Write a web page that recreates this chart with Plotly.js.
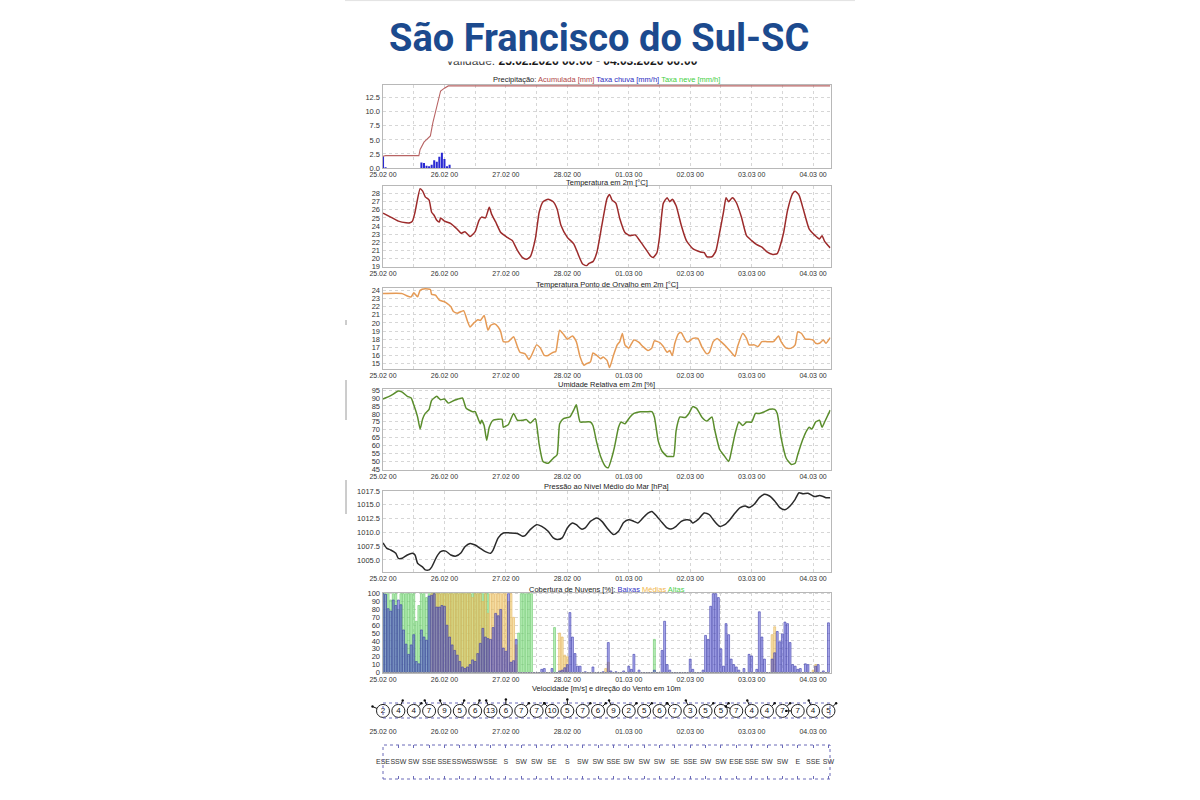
<!DOCTYPE html>
<html><head><meta charset="utf-8">
<script src="https://cdn.plot.ly/plotly-3.0.1.min.js"></script>
<style>html,body{margin:0;padding:0;background:#fff}#chart{width:1200px;height:800px}</style>
</head><body><div id="chart"></div>
<script>
// ---------- DATA ----------
const dayLabels = ['25.02 00','26.02 00','27.02 00','28.02 00','01.03 00','02.03 00','03.03 00','04.03 00'];
const gridHours = [0,12,24,36,48,60,72,84,96,108,120,132,144,156,168];

// Precipitation
const rateH = [0,1,15,16,17,18,19,20,21,22,23,24,25,26];
const rateV = [2.1,0.15,1.0,0.9,0.4,0.3,0.6,1.4,1.1,2.0,2.7,1.6,0.3,0.6];
const accH = [0,1,14,14.5,16,17.5,18.5,19.5,21,22,22.5,24,25.5,174.7];
const accV = [2.1,2.2,2.2,3.3,4.6,5.2,5.7,8.1,11.1,12.9,13.7,14.2,14.6,14.6];

// Temperature 2m
const tempH = [0,3,6,9,10.5,11.5,12.5,14.5,15.5,16.5,18,19,20,21,22,22.5,24,26.5,29,30.5,32,34,36,37.5,38.5,40,41.5,42.5,44,46,48.5,50.5,52.5,54.5,56,57.5,59.5,61,62.5,64.5,66.5,68,69.5,72,74.5,76.5,78,79.5,80.5,82,83.5,85.5,87.5,88.5,89.5,91,92.5,94.5,96.5,98.5,100.5,102.5,104.5,105.5,107,108,109.5,111,112,113,114.5,116.5,118.5,121,124,125.5,126.5,128.5,130,131.5,133,134,135,136.5,138,140,142,144,146,148,150,152,154,155,156.5,158,160,161,162.5,164.5,166.5,168.5,170.5,171.5,172.5,174.7];
const tempV = [25.6,25.1,24.6,24.4,24.4,24.6,25.7,28.6,28.3,27.6,27.2,25.7,25.3,24.7,24.5,25.0,24.6,24.3,23.6,23.1,23.3,22.7,23.3,24.7,25.1,25.0,26.3,25.4,24.5,23.2,22.6,22.2,21.0,20.1,19.9,20.2,22.4,25.7,27.0,27.3,27.0,26.1,24.1,22.6,21.8,20.3,19.3,19.1,19.4,19.6,20.7,24.1,27.4,27.9,27.2,26.8,24.9,23.2,22.8,22.9,22.1,21.2,20.3,20.1,20.7,22.6,26.8,27.5,27.0,27.3,26.5,24.1,22.2,21.2,20.8,20.7,20.2,20.2,20.9,23.2,25.7,27.5,27.0,27.5,26.9,25.1,22.8,22.2,21.7,21.4,20.8,20.5,20.6,21.4,23.2,25.9,28.0,28.3,27.8,25.7,23.6,22.9,22.4,22.8,22.1,21.3];

// Dew point 2m
const dewH = [0,7.5,9.5,11,12,13.5,14.5,16.5,18.5,19,20.5,22,24,25,26.5,27.5,29,30.5,31.5,33,34,35.5,37,38,39.5,41,42,43.5,45,46,47,49,51,52.5,53.5,55.5,57,58,60,61.5,63,64.5,66.5,67.5,69,70.5,72,74,75.5,77,78.5,79.5,81,82,83.5,85,86,87.5,88.5,90,91.5,92.5,93.5,94.5,96,98,100,101.5,103.5,105,106,108,109.5,111,112,113,114,115.5,116.5,118.5,119.5,121,123,124.5,126.5,127.5,129,130.5,132,134,136,137.5,138.5,140.5,142,143,145,146.5,148,150,152.5,154.5,155.5,157.5,159.5,161,162,163.5,165,166.5,168,169,170.5,172,173,174.7];
const dewV = [23.6,23.6,23.3,23.2,23.7,23.2,24.0,24.2,24.1,23.5,23.4,22.8,22.6,22.4,22.0,21.4,21.2,21.4,21.5,20.2,19.5,20.0,20.4,20.3,20.9,19.1,19.7,19.9,19.5,18.9,17.7,17.7,18.3,17.1,16.4,16.2,15.5,16.0,17.3,16.9,16.0,16.0,16.4,16.5,19.1,18.6,18.0,18.4,17.7,15.8,14.8,15.0,15.2,16.3,16.0,15.6,15.8,15.4,14.5,16.0,17.3,17.7,18.7,17.3,16.9,17.9,17.6,17.1,16.6,16.9,17.8,17.6,17.1,16.4,16.6,16.0,17.5,18.7,18.8,17.7,17.7,18.1,18.1,17.1,16.2,16.4,17.7,18.1,17.7,17.1,16.4,15.9,17.1,18.7,18.1,17.3,17.3,17.1,17.7,17.7,17.7,18.4,17.7,16.9,16.9,17.3,18.9,18.7,18.0,18.0,17.9,17.5,17.5,17.9,17.5,18.2];

// Relative humidity 2m
const rhH = [0,3,6,7.5,9.5,11,12,13.5,14.5,15.5,16.5,18,19,21,22.5,24,25.5,27,28.5,31,32.5,35,36,38,38.5,39.5,40.5,41.5,43,45,46.5,47,49,51,52.5,54.5,56,57.5,59.5,61,62.5,64.5,66.5,68,69,70.5,72,73,74.5,75.5,77,78.5,81,82,83.5,85,87,88,89.5,90.5,92,93,94.5,96.5,98,100.5,103,105,106,107.5,109,111,112.5,113.5,114.5,116,118,119.5,121,122.5,124.5,126.5,128.5,129.5,131.5,133,135,135.5,137.5,139,140.5,142,144,145.5,147,149,151,153,154,155.5,157.5,159.5,161,162,164,165.5,166.5,167.5,169,170.5,171.5,172.5,174.7];
const rhV = [89.4,91.5,94.4,93.7,91.1,90.0,85.7,78.1,70.5,77.0,80.3,82.9,88.5,91.1,88.9,89.4,86.8,87.9,88.9,90.0,83.5,81.4,81.4,73.8,76.0,72.7,63.4,71.6,76.0,76.6,76.6,71.6,73.4,80.3,76.0,76.0,76.4,74.2,77.0,60.8,50.0,48.9,52.1,54.3,73.8,77.0,77.7,78.1,82.4,85.7,74.9,74.9,74.9,72.7,61.9,53.2,46.7,46.1,53.2,59.7,71.6,74.9,73.8,78.1,80.3,81.4,81.4,81.4,78.1,63.0,56.5,53.2,53.2,53.2,69.5,78.1,77.7,80.3,84.6,83.5,78.1,75.5,78.1,70.5,57.6,54.3,50.0,52.1,67.3,74.9,72.7,74.9,74.9,80.3,80.3,81.4,82.9,82.9,80.3,65.1,52.1,48.2,48.9,54.3,64.0,69.5,71.6,70.5,74.9,76.0,71.6,74.9,82.4];

// Mean sea level pressure
const presH = [0,1.5,3,5,6,7.5,9.5,11.5,12.5,13.5,15.5,16.5,18,19,21,22.5,24.5,26.5,28.5,30.5,32,34,36,38,40,42,43,45,47,49.5,52.5,54.5,55.5,57.5,60,62,64.5,66.5,68,70,72,74,75.5,77.5,79,81,83.5,85.5,88,90,92,94,96,98,99.5,101.5,103.5,105,107,109,111,112.5,114.5,116.5,118.5,120,121,123,125.5,127.5,129.5,131.5,133.5,135.5,137.5,139.5,141.5,143,145,147,149,151,153,155,157,159,161,162.5,164,166,168,169,170.5,172,173,174.7];
const presV = [1008.1,1007.1,1006.8,1006.2,1005.3,1005.3,1005.9,1006.2,1005.9,1004.4,1003.7,1003.2,1003.2,1003.7,1005.6,1006.5,1006.6,1005.9,1005.7,1006.3,1007.4,1008.0,1007.7,1007.1,1006.5,1006.2,1006.8,1009.0,1009.9,1009.9,1009.8,1009.3,1009.4,1010.5,1011.4,1011.1,1010.2,1009.0,1008.7,1009.0,1010.8,1011.7,1011.4,1010.6,1010.8,1012.0,1012.6,1012.0,1010.5,1009.6,1010.2,1011.8,1012.3,1012.0,1011.7,1012.6,1013.5,1013.8,1012.9,1011.8,1010.8,1010.6,1011.1,1012.0,1012.3,1012.2,1011.7,1012.3,1013.5,1013.2,1012.0,1011.1,1011.4,1012.3,1013.5,1014.5,1014.8,1014.5,1015.1,1016.3,1016.9,1016.6,1015.7,1014.5,1014.1,1014.8,1016.0,1017.2,1017.0,1017.1,1016.6,1016.5,1016.7,1016.5,1016.3,1016.3];

// Cloud cover [%], hourly from 25.02 00 (index = hour)
const cloudLow = [100,99,81,78,92,85,92,86,54,36, 23,35,48,14,11,54,45,41,97,98, 100,83,83,85,84,60,45,35,28,22, 14,7,5,7,10,16,14,24,37,56, 45,43,42,57,75,72,80,31,27,100, 13,15,42,0,0,0,0,0,0,0, 0,0,4,5,0,0,5,0,0,2, 3,6,10,76,45,24,8,8,0,1, 0,0,7,0,0,0,1,0,38,2, 0,1,0,0,2,0,8,4,23,0, 3,0,0,0,0,0,3,0,0,28, 65,10,3,0,0,0,0,0,0,0, 17,4,0,0,0,3,47,42,84,100, 100,95,30,8,62,48,17,10,7,3, 0,5,0,23,21,0,4,77,45,17, 0,0,17,25,52,39,49,64,62,38, 10,8,4,5,0,11,10,0,0,8, 10,0,2,0,63];
const cloudMid = [0,0,0,0,0,0,0,0,0,0, 0,0,0,0,0,0,0,0,0,100, 100,100,100,100,100,100,100,100,100,100, 100,100,100,100,100,95,100,100,100,90, 100,75,100,100,100,100,100,100,100,90, 100,70,35,0,0,0,0,0,0,0, 0,0,0,0,0,0,0,0,0,50, 45,22,20,0,0,0,0,0,0,0, 0,0,0,0,0,0,0,5,13,0, 0,0,0,0,0,0,0,0,0,0, 0,0,0,0,0,0,0,0,0,0, 0,0,0,0,0,0,0,0,0,0, 0,0,0,0,0,0,0,0,0,0, 0,0,0,0,0,0,0,0,0,0, 0,0,0,0,0,0,0,0,0,0, 0,0,48,58,0,0,0,0,0,0, 0,0,0,0,0,0,0,0,3,10, 0,0,0,0,0];
const cloudHigh = [100,100,100,92,100,100,80,100,100,100, 100,100,100,65,85,100,100,95,100,100, 100,100,100,100,100,100,100,100,100,100, 100,100,100,100,100,100,100,100,100,100, 100,100,0,0,0,0,0,0,0,0, 0,0,0,50,100,100,100,100,100,0, 0,0,0,0,0,0,0,57,0,0, 0,0,0,0,0,0,0,0,0,0, 0,0,0,0,0,0,0,0,0,0, 0,0,0,0,0,0,0,0,0,0, 0,0,0,0,0,0,42,0,0,0, 0,0,0,0,0,0,0,0,0,0, 0,0,0,0,0,0,0,0,0,0, 0,0,0,0,0,0,0,0,0,0, 0,0,0,0,0,0,0,0,0,0, 0,0,0,0,0,0,0,0,0,0, 0,0,0,0,0,0,0,0,0,0, 0,0,0,0,0];

// Wind 10m (6-hourly)
const windH = [0,6,12,18,24,30,36,42,48,54,60,66,72,78,84,90,96,102,108,114,120,126,132,138,144,150,156,162,168,174];
const windSpd = [2,4,4,7,9,5,6,13,6,7,7,10,5,7,6,9,2,5,6,7,3,5,5,7,4,4,7,7,4,5];
const windDir = ['ESE','SSW','SW','SSE','SSE','SSW','SSW','SSE','S','SW','SW','SE','S','SW','SW','SSE','SW','SW','SW','SE','SSE','SW','SW','ESE','SSE','SW','SW','E','SSE','SW'];

// ---------- LAYOUT HELPERS ----------
const W = 1200, H = 800;
const px = v => v / W, py = v => 1 - v / H;
const X0 = 382.5, X1 = 830.5;
const XR = [-0.2, 174.8];
const FONT = 'Liberation Sans, Arial, sans-serif';
const GRID = '#d6d6d6';
const gridText = gridHours.map((h, i) => i % 2 === 0 ? dayLabels[i / 2] : '');
const compass = {N:0,NNE:22.5,NE:45,ENE:67.5,E:90,ESE:112.5,SE:135,SSE:157.5,S:180,SSW:202.5,SW:225,WSW:247.5,W:270,WNW:292.5,NW:315,NNW:337.5};

function xax(anchor) {
  return {domain:[px(X0), px(X1)], range:XR, anchor, tickmode:'array', tickvals:gridHours, ticktext:gridText,
    showgrid:true, gridcolor:GRID, griddash:'3px,3px', gridwidth:1, showline:true, mirror:true,
    linecolor:'#b8b8b8', linewidth:1, ticks:'', zeroline:false, fixedrange:true,
    tickfont:{family:FONT, size:7, color:'#333'}};
}
function yax(anchor, top, bottom, range, vals, txt) {
  return {domain:[py(bottom), py(top)], range, anchor, tickmode:'array', tickvals:vals, ticktext:txt || vals.map(String),
    showgrid:true, gridcolor:GRID, griddash:'3px,3px', gridwidth:1, showline:true, mirror:true,
    linecolor:'#b8b8b8', linewidth:1, ticks:'', zeroline:false, fixedrange:true,
    tickfont:{family:FONT, size:7.5, color:'#333'}};
}

const panels = [[84.5,168],[185.5,266.5],[287.5,368.5],[388.5,469.5],[490.5,571.5],[592.5,672.5]];
const pVals = [0,2.5,5,7.5,10,12.5];
const tVals = [19,20,21,22,23,24,25,26,27,28];
const dVals = [15,16,17,18,19,20,21,22,23,24];
const hVals = [45,50,55,60,65,70,75,80,85,90,95];
const prVals = [1005,1007.5,1010,1012.5,1015,1017.5];
const cVals = [0,10,20,30,40,50,60,70,80,90,100];

const layout = {
  width:W, height:H, margin:{l:0,r:0,t:0,b:0}, paper_bgcolor:'#ffffff', plot_bgcolor:'#ffffff',
  showlegend:false, barmode:'overlay', hovermode:false,
  font:{family:FONT, size:8, color:'#333'},
  xaxis: xax('y'), xaxis2: xax('y2'), xaxis3: xax('y3'), xaxis4: xax('y4'), xaxis5: xax('y5'), xaxis6: xax('y6'),
  yaxis: yax('x', panels[0][0], panels[0][1], [0,14.85], pVals, pVals.map(v => v.toFixed(1))),
  yaxis2: yax('x2', panels[1][0], panels[1][1], [19,29], tVals),
  yaxis3: yax('x3', panels[2][0], panels[2][1], [14.4,24.35], dVals),
  yaxis4: yax('x4', panels[3][0], panels[3][1], [45,96], hVals),
  yaxis5: yax('x5', panels[4][0], panels[4][1], [1002.9,1017.6], prVals, prVals.map(v => v.toFixed(1))),
  yaxis6: yax('x6', panels[5][0], panels[5][1], [0,101.5], cVals),
  xaxis7: {domain:[px(X0),px(X1)], range:XR, anchor:'y7', tickmode:'array', tickvals:gridHours, ticktext:gridText,
    showgrid:false, showline:false, zeroline:false, ticks:'', fixedrange:true, tickfont:{family:FONT,size:7,color:'#333'}},
  yaxis7: {domain:[py(726), py(700)], range:[0,1], anchor:'x7', visible:false, fixedrange:true},
  xaxis8: {domain:[px(X0),px(X1)], range:XR, anchor:'y8', tickmode:'array', tickvals:windH, showticklabels:false,
    showgrid:false, showline:false, zeroline:false, ticks:'inside', ticklen:3, tickcolor:'#6a6ab8', mirror:'ticks', fixedrange:true},
  yaxis8: {domain:[py(779), py(745)], range:[0,1], anchor:'x8', visible:false, fixedrange:true},
  shapes: [
    {type:'line', xref:'paper', yref:'paper', x0:px(345), x1:px(855), y0:py(0.6), y1:py(0.6), line:{color:'#e2e2e2', width:1}},
    {type:'line', xref:'paper', yref:'paper', x0:px(346), x1:px(346), y0:py(380), y1:py(420), line:{color:'#9a9a9a', width:1}},
    {type:'line', xref:'paper', yref:'paper', x0:px(346), x1:px(346), y0:py(480), y1:py(514), line:{color:'#9a9a9a', width:1}},
    {type:'line', xref:'paper', yref:'paper', x0:px(346), x1:px(346), y0:py(320), y1:py(325), line:{color:'#9a9a9a', width:1}},
    {type:'rect', xref:'paper', yref:'paper', x0:px(383), x1:px(830), y0:py(718), y1:py(703), line:{color:'#6a6ab8', width:1, dash:'dot'}},
    {type:'rect', xref:'paper', yref:'paper', x0:px(383), x1:px(830), y0:py(779), y1:py(745), line:{color:'#6a6ab8', width:1, dash:'dot'}}
  ],
  annotations: []
};

const ann = layout.annotations;
const cx = px((X0 + X1) / 2);
function ptitle(text, y) {
  ann.push({xref:'paper', yref:'paper', x:cx, y:py(y), xanchor:'center', yanchor:'middle', showarrow:false,
    text, font:{family:FONT, size:7.5, color:'#222'}});
}
ptitle('Precipitação: <span style="color:#b04848">Acumulada [mm]</span> <span style="color:#2b2bc0">Taxa chuva [mm/h]</span> <span style="color:#3fcf3f">Taxa neve [mm/h]</span>', 79);
ptitle('Temperatura em 2m [°C]', 182);
ptitle('Temperatura Ponto de Orvalho em 2m [°C]', 284);
ptitle('Umidade Relativa em 2m [%]', 385);
ptitle('Pressão ao Nível Médio do Mar [hPa]', 486.5);
ptitle('Cobertura de Nuvens [%]: <span style="color:#3434c4">Baixas</span> <span style="color:#f2b548">Médias</span> <span style="color:#4fd04f">Altas</span>', 589);
ptitle('Velocidade [m/s] e direção do Vento em 10m', 688);

// subtitle (top half hidden behind the header) and header
ann.push({xref:'paper', yref:'paper', x:px(572), y:py(60.5), xanchor:'center', yanchor:'middle', showarrow:false,
  text:'<span style="color:#444">Validade:</span> <b>25.02.2026 00:00 - 04.03.2026 06:00</b>', font:{family:FONT, size:12, color:'#1a1a1a'}});
ann.push({xref:'paper', yref:'paper', x:px(572), y:py(50), xanchor:'center', yanchor:'top', showarrow:false,
  text:' ', width:320, height:8, bgcolor:'#ffffff', borderpad:1, font:{size:4}});
ann.push({xref:'paper', yref:'paper', x:px(599), y:py(38), xanchor:'center', yanchor:'middle', showarrow:false,
  text:'<b>São Francisco do Sul-SC</b>', font:{family:'Roboto, Noto Sans, sans-serif', size:38, color:'#1c4a8e'}});

// wind arrows
windH.forEach((h, i) => {
  const d = compass[windDir[i]] * Math.PI / 180;
  const L = 13;
  ann.push({x:h, y:0.58, xref:'x7', yref:'y7', text:'', showarrow:true, arrowside:'start',
    ax:-Math.sin(d) * L, ay:Math.cos(d) * L, axref:'pixel', ayref:'pixel',
    arrowhead:6, startarrowhead:6, startarrowsize:0.6, arrowsize:0.6, arrowwidth:1, arrowcolor:'#111',
    standoff:6.5, font:{size:1, color:'#111'}});
});

// ---------- TRACES ----------
const hrs = cloudLow.map((_, i) => i);
const traces = [
  {type:'bar', x:rateH, y:rateV, xaxis:'x', yaxis:'y', width:0.8, marker:{color:'#2a2ad2', line:{width:0}}},
  {type:'scatter', mode:'lines', x:accH, y:accV, xaxis:'x', yaxis:'y', line:{color:'#b86464', width:1.1}},
  {type:'scatter', mode:'lines', x:tempH, y:tempV, xaxis:'x2', yaxis:'y2', line:{color:'#9c2b2b', width:1.5, shape:'spline', smoothing:0.5}},
  {type:'scatter', mode:'lines', x:dewH, y:dewV, xaxis:'x3', yaxis:'y3', line:{color:'#e59a55', width:1.5, shape:'spline', smoothing:0.5}},
  {type:'scatter', mode:'lines', x:rhH, y:rhV, xaxis:'x4', yaxis:'y4', line:{color:'#5a8d2c', width:1.5, shape:'spline', smoothing:0.5}},
  {type:'scatter', mode:'lines', x:presH, y:presV, xaxis:'x5', yaxis:'y5', line:{color:'#2a2a2a', width:1.5, shape:'spline', smoothing:0.6}},
  {type:'bar', x:hrs, y:cloudHigh, xaxis:'x6', yaxis:'y6', width:0.75, marker:{color:'rgba(130,225,130,0.55)', line:{color:'rgb(105,200,105)', width:0.6}}},
  {type:'bar', x:hrs, y:cloudMid, xaxis:'x6', yaxis:'y6', width:0.75, marker:{color:'rgba(240,205,110,0.55)', line:{color:'rgb(228,180,90)', width:0.6}}},
  {type:'bar', x:hrs, y:cloudLow, xaxis:'x6', yaxis:'y6', width:0.75, marker:{color:'rgba(90,90,220,0.5)', line:{color:'rgb(60,60,170)', width:0.6}}},
  {type:'scatter', mode:'markers', x:windH, y:windH.map(() => 0.58),
    marker:{symbol:'circle-open', size:13, color:'#222', line:{width:1, color:'#222'}},
    xaxis:'x7', yaxis:'y7', cliponaxis:false},
  {type:'scatter', mode:'text', x:windH, y:windH.map(() => 0.58), text:windSpd.map(String), textposition:'middle center',
    textfont:{family:FONT, size:8, color:windSpd.map(() => '#111')}, xaxis:'x7', yaxis:'y7', cliponaxis:false},
  {type:'scatter', mode:'text', x:windH, y:windH.map(() => 0.5), text:windDir, textposition:'middle center',
    textfont:{family:FONT, size:7, color:'#333'}, xaxis:'x8', yaxis:'y8', cliponaxis:false}
];

Plotly.newPlot('chart', traces, layout, {displayModeBar:false, staticPlot:true});
</script>
</body></html>
